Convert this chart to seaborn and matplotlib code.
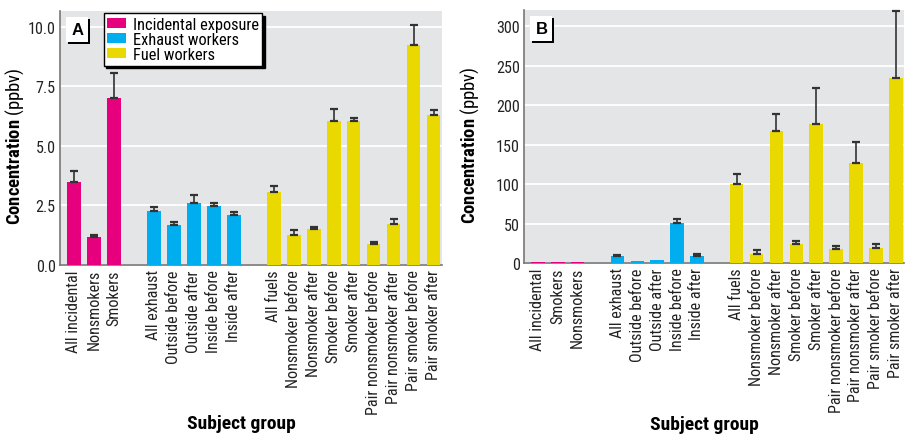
import numpy as np
import pandas as pd
import matplotlib.pyplot as plt
import matplotlib.patheffects as pe
from matplotlib import font_manager
import seaborn as sns

# ---- data ----
incidental_a = ["All incidental", "Nonsmokers", "Smokers"]
incidental_b = ["All incidental", "Smokers", "Nonsmokers"]
exhaust = ["All exhaust", "Outside before", "Outside after", "Inside before", "Inside after"]
fuel = ["All fuels", "Nonsmoker before", "Nonsmoker after", "Smoker before", "Smoker after",
        "Pair nonsmoker before", "Pair nonsmoker after", "Pair smoker before", "Pair smoker after"]

# panel A (ppbv)
a_incidental = [3.47, 1.16, 6.99]
a_incidental_err = [0.46, 0.10, 1.07]
a_exhaust = [2.25, 1.66, 2.59, 2.46, 2.08]
a_exhaust_err = [0.17, 0.16, 0.35, 0.16, 0.16]
a_fuel = [3.05, 1.24, 1.50, 6.03, 6.03, 0.87, 1.71, 9.22, 6.28]
a_fuel_err = [0.26, 0.24, 0.11, 0.53, 0.15, 0.10, 0.21, 0.85, 0.22]

# panel B (ppbv)
b_incidental = [1.0, 1.0, 1.0]
b_incidental_err = [0, 0, 0]
b_exhaust = [8.4, 2.9, 4.2, 50.9, 8.4]
b_exhaust_err = [2.3, 0, 0, 5.0, 3.0]
b_fuel = [100.0, 11.8, 167.0, 23.6, 175.9, 18.1, 126.6, 19.4, 235.2]
b_fuel_err = [13.5, 4.2, 22.0, 4.2, 46.0, 3.8, 27.5, 5.0, 84.0]

group_names = ["Incidental exposure", "Exhaust workers", "Fuel workers"]
colors = ["#e6007e", "#00aeef", "#e9d900"]

# pick a narrow face if one is installed
names = {f.name for f in font_manager.fontManager.ttflist}
condensed = {f.name for f in font_manager.fontManager.ttflist
             if str(f.stretch) in ("condensed", "semi-condensed", "extra-condensed")
             or "Condensed" in f.fname or "Narrow" in f.fname}
font = "DejaVu Sans"
for cand in ["Liberation Sans Narrow", "Roboto Condensed", "Open Sans Condensed",
             "DejaVu Sans Condensed", "Noto Sans Condensed"]:
    if cand in names:
        font = cand
        break
else:
    if condensed:
        font = sorted(condensed)[0]
narrow = font != "DejaVu Sans"

plt.rcParams["font.family"] = [font, "DejaVu Sans"]
plt.rcParams["font.stretch"] = "condensed"
plt.rcParams["mathtext.fontset"] = "custom"
plt.rcParams["mathtext.bf"] = font + ":bold"
plt.rcParams["mathtext.rm"] = font

k = 1.0 if narrow else 0.86  # shrink text when only the wide face exists


def make_frame(inc_labels, inc, inc_e, exh, exh_e, fu, fu_e):
    rows = []
    for name, labels, vals, errs in [(group_names[0], inc_labels, inc, inc_e),
                                     (group_names[1], exhaust, exh, exh_e),
                                     (group_names[2], fuel, fu, fu_e)]:
        for lab, v, e in zip(labels, vals, errs):
            rows.append({"label": lab, "value": v, "err": e, "group": name})
    df = pd.DataFrame(rows)
    # blank slots between the groups
    order = inc_labels + [" "] + exhaust + ["  "] + fuel
    return df, order


def draw(ax, df, order, ymax, ticks, ticklabels, panel, legend):
    ax.set_facecolor("#e4e5e7")
    sns.barplot(data=df, x="label", y="value", hue="group", order=order,
                hue_order=group_names, palette=colors, dodge=False, width=0.68,
                errorbar=None, saturation=1, legend=legend, ax=ax, zorder=3)
    pos = np.array([order.index(l) for l in df["label"]])
    m = df["err"].values > 0
    ax.errorbar(pos[m], df["value"].values[m],
                yerr=[np.zeros(m.sum()), df["err"].values[m]],
                fmt="none", ecolor="#333333", elinewidth=1.2, capsize=2.6,
                capthick=1.6, zorder=4, clip_on=False)
    ax.set_xlim(-0.7, len(order) - 1 + 0.42)
    ax.set_ylim(0, ymax)
    ax.set_yticks(ticks)
    ax.set_yticklabels(ticklabels)
    ax.grid(axis="y", color="white", linewidth=1.3, zorder=0)
    ax.set_axisbelow(True)
    ax.tick_params(axis="both", length=0, labelsize=11.6 * k, colors="#222222", pad=3)
    ax.tick_params(axis="x", rotation=90, pad=3)
    for s in ["top", "right"]:
        ax.spines[s].set_visible(False)
    for s in ["left", "bottom"]:
        ax.spines[s].set_color("#777777")
        ax.spines[s].set_linewidth(1.2)
    ax.set_ylabel(r"$\bf{Concentration}$ (ppbv)", fontsize=13.4 * k)
    ax.yaxis.set_label_coords(-0.089 if panel == "A" else -0.114, 0.47)
    ax.set_xlabel("Subject group", fontsize=14 * k, fontweight="bold")
    ax.xaxis.set_label_coords(0.474, -0.585 if panel == "A" else -0.6)
    t = ax.text(0.03, 0.955, panel, transform=ax.transAxes, fontsize=12,
                fontweight="bold", va="top", ha="left", zorder=6,
                family=["Liberation Sans", "DejaVu Sans"],
                bbox=dict(boxstyle="square,pad=0.3", fc="white", ec="none"))
    t.get_bbox_patch().set_path_effects(
        [pe.withSimplePatchShadow(offset=(1.2, -1.2), shadow_rgbFace="black", alpha=1),
         pe.Normal()])


fig = plt.figure(figsize=(9.05, 4.35), dpi=100)
ax_a = fig.add_axes([0.0663, 0.3885, 0.4221, 0.584])
ax_b = fig.add_axes([0.579, 0.393, 0.42, 0.582])

df_a, order_a = make_frame(incidental_a, a_incidental, a_incidental_err,
                           a_exhaust, a_exhaust_err, a_fuel, a_fuel_err)
df_b, order_b = make_frame(incidental_b, b_incidental, b_incidental_err,
                           b_exhaust, b_exhaust_err, b_fuel, b_fuel_err)

draw(ax_a, df_a, order_a, 10.66, [0, 2.5, 5, 7.5, 10],
     ["0.0", "2.5", "5.0", "7.5", "10.0"], "A", True)
draw(ax_b, df_b, order_b, 321, [0, 50, 100, 150, 200, 250, 300],
     ["0", "50", "100", "150", "200", "250", "300"], "B", False)

handles, labels = ax_a.get_legend_handles_labels()
leg = ax_a.legend(handles, labels, loc="upper left", bbox_to_anchor=(0.108, 1.0),
                  frameon=True, fancybox=False, fontsize=11.8 * (1.0 if narrow else 0.8),
                  handlelength=1.15, handleheight=0.55, handletextpad=0.4,
                  labelspacing=0.0, borderpad=0.22, borderaxespad=0.15,
                  shadow={"color": "black", "alpha": 1, "ox": 2, "oy": -2})
leg.get_frame().set_edgecolor("black")
leg.get_frame().set_linewidth(1.0)
leg.set_zorder(7)

fig.savefig("out.png", dpi=100)
